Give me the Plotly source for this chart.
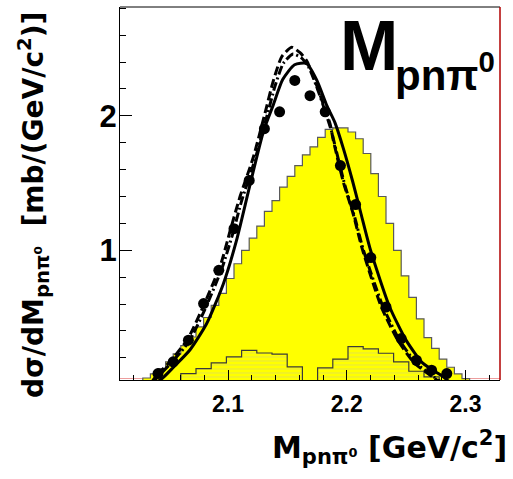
import plotly.graph_objects as go

# ---------------- data ----------------
HIST_START = 2.009
BIN_W = 0.0064          # fine binning (yellow histogram)
yellow_counts = [0, 0, 0, 0.05, 0.08, 0.12, 0.17, 0.23, 0.29, 0.355,
                 0.43, 0.50, 0.59, 0.68, 0.79, 0.90, 1.00, 1.09, 1.18, 1.29,
                 1.37, 1.47, 1.55, 1.63, 1.71, 1.77, 1.84, 1.90, 1.91, 1.91,
                 1.88, 1.83, 1.72, 1.57, 1.40, 1.20, 1.00, 0.81, 0.65, 0.49,
                 0.35, 0.27, 0.19, 0.13, 0.08, 0.045, 0, 0, 0, 0]

COARSE_W = 0.0128       # coarse binning (hatched histogram, data points)
hatched_counts = [0, 0, 0, 0, 0.083, 0.12, 0.162, 0.207, 0.256, 0.236,
                  0.227, 0.132, 0, 0.125, 0.19, 0.284, 0.266, 0.234, 0.17, 0.10,
                  0.058, 0, 0, 0, 0]

data_mass = [2.0410, 2.0538, 2.0666, 2.0794, 2.0922, 2.1050, 2.1178, 2.1306,
             2.1434, 2.1562, 2.1690, 2.1818, 2.1946, 2.2074, 2.2202, 2.2330,
             2.2458, 2.2586, 2.2714, 2.2842]
data_xsec = [0.083, 0.17, 0.331, 0.604, 0.851, 1.161, 1.52, 1.905,
             2.03, 2.264, 2.15, 2.03, 1.63, 1.34, 0.946, 0.578,
             0.343, 0.182, 0.108, 0.083]

solid_m = [2.037, 2.045, 2.054, 2.068, 2.082, 2.096, 2.107, 2.118, 2.130, 2.138,
           2.146, 2.156, 2.166, 2.175, 2.183, 2.190, 2.197, 2.205, 2.212, 2.220,
           2.236, 2.250, 2.264, 2.281, 2.289]
solid_v = [0.0, 0.05, 0.13, 0.26, 0.455, 0.75, 1.07, 1.47, 1.89, 2.08,
           2.27, 2.38, 2.39, 2.26, 2.08, 1.95, 1.76, 1.51, 1.27, 1.00,
           0.58, 0.33, 0.16, 0.06, 0.0]

dashed_m = [2.034, 2.041, 2.052, 2.066, 2.080, 2.094, 2.1016, 2.1101, 2.1212, 2.1311,
            2.1381, 2.1452, 2.1536, 2.1606, 2.1662, 2.1733, 2.1789, 2.1859, 2.1886, 2.1970,
            2.2054, 2.2127, 2.2290, 2.2430, 2.2570, 2.2720, 2.2810]
dashed_v = [0.0, 0.08, 0.18, 0.34, 0.60, 0.90, 1.14, 1.40, 1.69, 2.02,
            2.26, 2.44, 2.51, 2.47, 2.41, 2.26, 2.12, 1.94, 1.82, 1.51,
            1.27, 1.02, 0.58, 0.33, 0.16, 0.06, 0.0]

dashdot_m = [2.035, 2.042, 2.053, 2.067, 2.081, 2.095, 2.1035, 2.1115, 2.1225, 2.1325,
             2.1395, 2.1465, 2.1547, 2.1620, 2.1680, 2.1745, 2.1800, 2.1870, 2.1900, 2.1985,
             2.2068, 2.2140, 2.2305, 2.2445, 2.2585, 2.2730, 2.2825]
dashdot_v = [0.0, 0.07, 0.17, 0.32, 0.57, 0.87, 1.11, 1.37, 1.67, 1.99,
             2.22, 2.39, 2.46, 2.43, 2.36, 2.22, 2.08, 1.89, 1.78, 1.48,
             1.24, 1.00, 0.58, 0.33, 0.16, 0.06, 0.0]

x_range = [2.009, 2.329]
y_range = [0.035, 2.81]
x_tickvals = [2.1, 2.2, 2.3]
x_ticktext = ["2.1", "2.2", "2.3"]
y_tickvals = [1, 2]
y_ticktext = ["1", "2"]

# ---------------- figure ----------------
def step_xy(start, width, counts):
    xs = [start + width * i for i in range(len(counts) + 1)]
    ys = list(counts) + [counts[-1]]
    return xs, ys

fig = go.Figure()

yx, yy = step_xy(HIST_START, BIN_W, yellow_counts)
fig.add_trace(go.Scatter(x=yx, y=yy, mode="lines", line=dict(shape="hv", color="#5a5a5a", width=1.2),
                         fill="tozeroy", fillcolor="#ffff00", hoverinfo="skip", showlegend=False))

hx, hy = step_xy(HIST_START, COARSE_W, hatched_counts)
fig.add_trace(go.Scatter(x=hx, y=hy, mode="lines", line=dict(shape="hv", color="#3a3a3a", width=1.2),
                         fill="tozeroy", fillcolor="#ffff00",
                         fillpattern=dict(shape="-", fgcolor="#c9c98f", bgcolor="#ffff00", size=4, solidity=0.25),
                         hoverinfo="skip", showlegend=False))

fig.add_trace(go.Scatter(x=dashed_m, y=dashed_v, mode="lines", line=dict(color="black", width=3, dash="9px,4px", shape="spline", smoothing=0.6),
                         showlegend=False))
fig.add_trace(go.Scatter(x=dashdot_m, y=dashdot_v, mode="lines", line=dict(color="black", width=3, dash="9px,3px,2px,3px", shape="spline", smoothing=0.6),
                         showlegend=False))
fig.add_trace(go.Scatter(x=solid_m, y=solid_v, mode="lines", line=dict(color="black", width=3, shape="spline", smoothing=0.6),
                         showlegend=False))
fig.add_trace(go.Scatter(x=data_mass, y=data_xsec, mode="markers", marker=dict(color="black", size=11, symbol="circle"),
                         showlegend=False))

FONT = "Liberation Sans, Arial, sans-serif"
TFONT = "DejaVu Sans, sans-serif"

fig.update_layout(
    width=513, height=479,
    margin=dict(l=120, r=13, t=7, b=99),
    paper_bgcolor="white", plot_bgcolor="white",
    xaxis=dict(range=x_range, showgrid=False, zeroline=False, showline=True, linecolor="black", linewidth=1,
               tickmode="array", tickvals=x_tickvals, ticktext=x_ticktext,
               ticks="inside", ticklen=10, tickwidth=1, tickcolor="black",
               minor=dict(dtick=0.02, tick0=2.0, ticks="inside", ticklen=5, tickcolor="black", tickwidth=1),
               tickfont=dict(family=FONT, size=23, color="black", weight="bold"),
               ticklabelstandoff=3),
    yaxis=dict(range=y_range, showgrid=False, zeroline=False, showline=True, linecolor="black", linewidth=1,
               tickmode="array", tickvals=y_tickvals, ticktext=y_ticktext,
               ticks="inside", ticklen=12, tickwidth=1, tickcolor="black",
               minor=dict(dtick=0.2, tick0=0, ticks="inside", ticklen=6, tickcolor="black", tickwidth=1),
               tickfont=dict(family=FONT, size=31, color="black", weight="bold"),
               ticklabelstandoff=-4),
    shapes=[
        dict(type="line", xref="paper", yref="paper", x0=0, x1=1, y0=1, y1=1, line=dict(color="black", width=1)),
        dict(type="line", xref="paper", yref="paper", x0=1, x1=1, y0=0, y1=1, line=dict(color="#b00000", width=1.5)),
        dict(type="line", xref="paper", yref="paper", x0=0, x1=1, y0=0.004, y1=0.004, line=dict(color="rgba(220,60,60,0.5)", width=1), layer="below"),
    ],
    annotations=[
        dict(text="M", xref="paper", yref="paper", x=0.574, y=0.895, xanchor="left", yanchor="middle",
             showarrow=False, font=dict(family=FONT, size=70, color="black", weight="bold")),
        dict(text="pnπ<sup>0</sup>", xref="paper", yref="paper", x=0.718, y=0.826, xanchor="left", yanchor="middle",
             showarrow=False, font=dict(family=FONT, size=42, color="black", weight="bold")),
        dict(text="M<sub>pnπ⁰</sub> [GeV/c<sup>2</sup>]", xref="paper", yref="paper", x=0.708, y=-0.118,
             xanchor="center", yanchor="top", showarrow=False,
             font=dict(family=TFONT, size=30, color="black", weight="bold")),
        dict(text="dσ/dM<sub>pnπ⁰</sub>  [mb/(GeV/c<sup>2</sup>)]", xref="paper", yref="paper", x=-0.229, y=0.469,
             xanchor="center", yanchor="middle", textangle=-90, showarrow=False,
             font=dict(family=TFONT, size=28, color="black", weight="bold")),
    ],
)

fig.write_html("out.html", config={"displayModeBar": False},
               post_script="document.body.style.margin='0';document.body.style.padding='0';")
